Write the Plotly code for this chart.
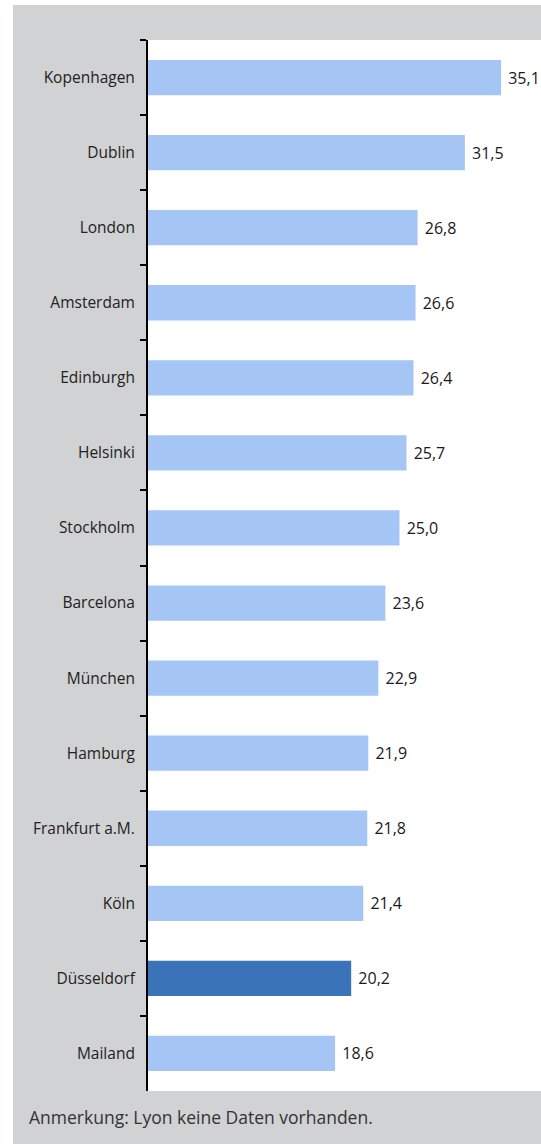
import plotly.graph_objects as go

cities = ["Kopenhagen", "Dublin", "London", "Amsterdam", "Edinburgh", "Helsinki",
          "Stockholm", "Barcelona", "München", "Hamburg", "Frankfurt a.M.", "Köln",
          "Düsseldorf", "Mailand"]
values = [35.1, 31.5, 26.8, 26.6, 26.4, 25.7, 25.0, 23.6, 22.9, 21.9, 21.8, 21.4, 20.2, 18.6]
highlight = "Düsseldorf"
note = "Anmerkung: Lyon keine Daten vorhanden."

LIGHT = "#a5c5f4"
DARK = "#3a73b8"
GRAY = "#d1d2d4"

colors = [DARK if c == highlight else LIGHT for c in cities]
texts = [" " + f"{v:.1f}".replace(".", ",") for v in values]

W, H = 541, 1144
ml, mr, mt, mb = 148, 0, 40, 53
pw, ph = W - ml - mr, H - mt - mb

fig = go.Figure(go.Bar(
    y=cities, x=values, orientation="h", marker_color=colors, marker_line_width=0,
    width=0.47, text=texts, textposition="outside", cliponaxis=False,
    textfont=dict(family="Open Sans", size=16, color="#1a1a1a"),
))

fig.update_layout(
    width=W, height=H, margin=dict(l=ml, r=mr, t=mt, b=mb),
    paper_bgcolor="white", plot_bgcolor="white", showlegend=False,
    font=dict(family="Open Sans", size=15, color="#1a1a1a"),
    xaxis=dict(range=[0, 39.07], visible=False, showgrid=False),
    yaxis=dict(autorange="reversed", showgrid=False, showline=True, linecolor="black",
               linewidth=2, ticks="outside", tickson="boundaries", ticklen=6,
               tickwidth=2, tickcolor="black", ticklabelstandoff=8,
               tickfont=dict(family="Open Sans", size=15.5, color="#222222")),
    shapes=[
        dict(type="rect", xref="paper", yref="paper", layer="below",
             x0=(13 - ml) / pw, x1=1, y0=-(mb) / ph, y1=(ph + mt - 5) / ph,
             fillcolor=GRAY, line_width=0),
        dict(type="rect", xref="paper", yref="paper", layer="below",
             x0=0, x1=1, y0=0, y1=1, fillcolor="white", line_width=0),
    ],
    annotations=[dict(text=note, xref="paper", yref="paper", x=(27 - ml) / pw,
                      y=-(1117 - (mt + ph)) / ph, xanchor="left", yanchor="middle",
                      showarrow=False, font=dict(family="Open Sans", size=17.5, color="#333333"))],
)

fig.write_html("out.html", config={"displayModeBar": False},
               post_script="document.body.style.margin='0';document.body.style.overflow='hidden';")
